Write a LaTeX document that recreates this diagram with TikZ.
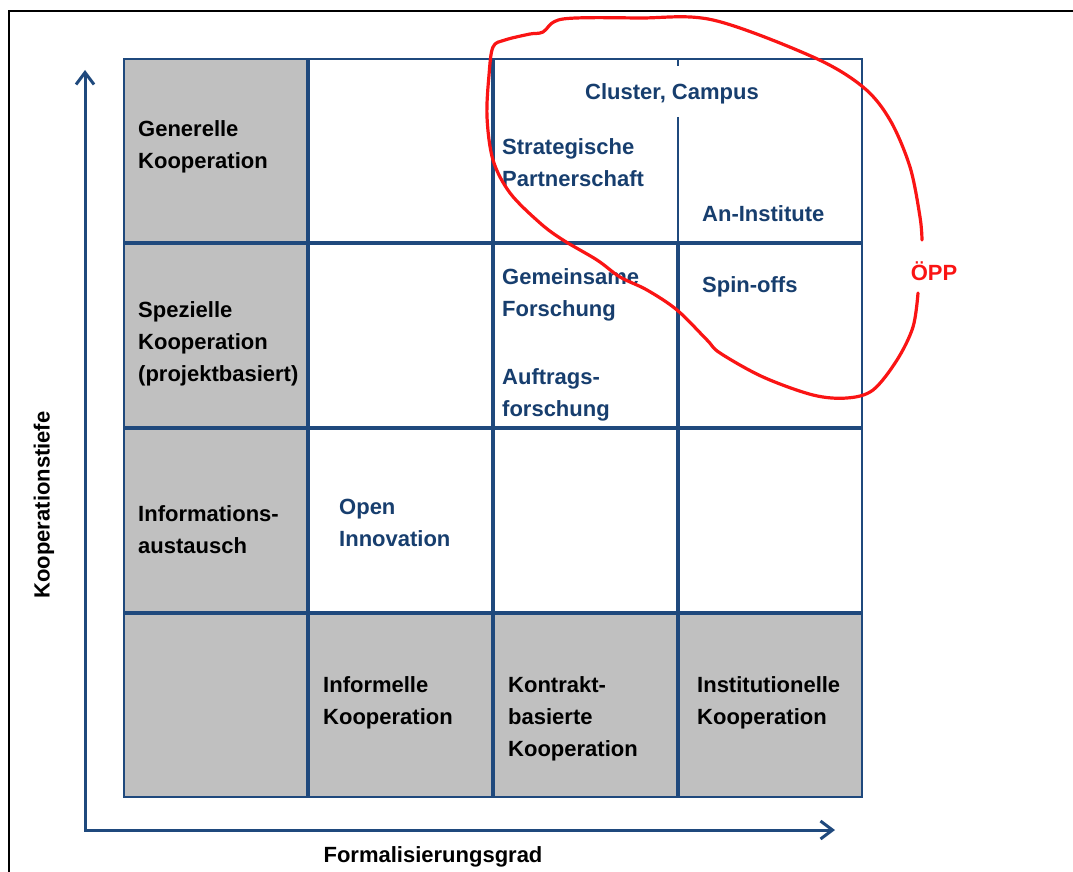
\documentclass[tikz,border=0pt]{standalone}
\usepackage{fontspec}
\setmainfont{Liberation Sans}
\usetikzlibrary{arrows.meta}
\definecolor{gridblue}{RGB}{31,73,125}
\definecolor{textblue}{RGB}{23,62,110}
\definecolor{cellgray}{RGB}{192,192,192}
\definecolor{oppred}{RGB}{250,20,20}

\begin{document}
\begin{tikzpicture}[x=1pt,y=-1pt,
  cell/.style={draw=gridblue, line width=1.3pt},
  axis/.style={gridblue, line width=3pt, {Straight Barb[length=12pt,width=18pt]}-{Straight Barb[length=12pt,width=18pt]}},
  lbl/.style={font=\fontsize{22}{32}\selectfont\bfseries, inner sep=0pt, anchor=west, align=left},
  bluelbl/.style={lbl, text=textblue},
  opploop/.style={oppred, line width=3.2pt, line cap=round, line join=round}]
\useasboundingbox (0,0) rectangle (1073,872);
% Frame
\draw[line width=2.2pt] (9,872) -- (9,11) -- (1073,11);
% Grey header cells
\foreach \r in {0,1,2}
  \draw[cell, fill=cellgray] (124,{58+185*\r+1}) rectangle ++(183,183);
\foreach \c in {0,...,3}
  \draw[cell, fill=cellgray] ({123+185*\c+1},614) rectangle ++(183,183);
% White cells
\foreach \c/\r in {1/0,1/1,2/1,3/1,1/2,2/2,3/2}
  \draw[cell, fill=white] ({123+185*\c+1},{58+185*\r+1}) rectangle ++(183,183);
% Merged cell top right
\draw[cell] (494,59) rectangle (862,242);
\draw[cell] (678,59) -- (678,66);
\draw[cell] (678,117) -- (678,242);
% Axes
\coordinate (origin) at (85,830);
\coordinate (ytop) at (85,70);
\coordinate (xend) at (835,830);
\draw[axis] (ytop) -- (origin) -- (xend);
\node[lbl, anchor=center, rotate=90] (ytitle) at (44,505) {Kooperationstiefe};
\node[lbl, anchor=center] (xtitle) at (433,857) {Formalisierungsgrad};
% Row and column headings
\node[lbl] (generell) at (138,147) {Generelle\\Kooperation};
\node[lbl] (speziell) at (138,344) {Spezielle\\Kooperation\\(projektbasiert)};
\node[lbl] (info) at (138,530) {Informations-\\austausch};
\node[lbl] (informell) at (323,703) {Informelle\\Kooperation};
\node[lbl] (kontrakt) at (508,719) {Kontrakt-\\basierte\\Kooperation};
\node[lbl] (institut) at (697,703) {Institutionelle\\Kooperation};
% Forms of cooperation
\node[bluelbl] (open) at (339,523) {Open\\Innovation};
\node[bluelbl, anchor=center] (cluster) at (672,94) {Cluster, Campus};
\node[bluelbl] (strat) at (502,163) {Strategische\\Partnerschaft};
\node[bluelbl] (aninst) at (702,214) {An-Institute};
\node[bluelbl] (gemein) at (502,295) {Gemeinsame\\Forschung};
\node[bluelbl] (auftrag) at (502,395) {Auftrags-\\forschung};
\node[bluelbl] (spinoff) at (702,287) {Spin-offs};
% OePP loop
\node[lbl, text=oppred, anchor=center] (opp) at (934,271) {ÖPP};
\draw[opploop] plot[smooth, tension=0.55] coordinates {
  (918,293) (913,327) (897,360) (873,390) (847,398) (813,395) (763,377)
  (720,353) (707,340) (677,310) (647,290) (620,277) (597,260) (563,240)
  (540,223) (510,193) (493,160) (487,117) (489,75) (493,47) (505,40)
  (530,34) (543,32) (563,19) (640,18) (713,20) (813,57) (863,87)
  (890,120) (910,167) (920,217) (922,240)};
\end{tikzpicture}
\end{document}
